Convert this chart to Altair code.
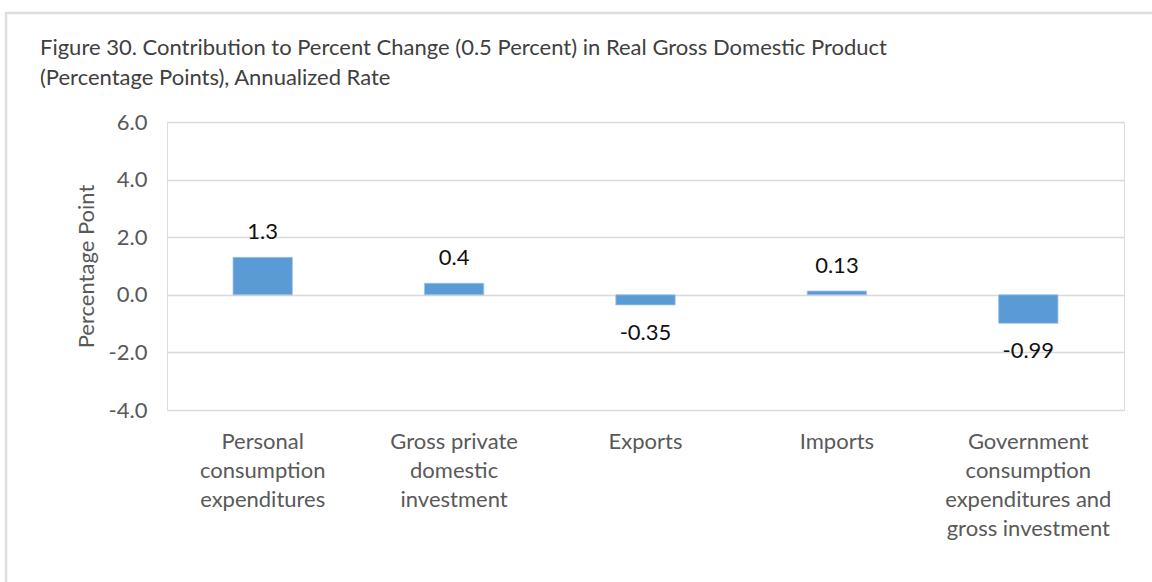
import altair as alt
import pandas as pd

title_lines = [
    "Figure 30. Contribution to Percent Change (0.5 Percent) in Real Gross Domestic Product",
    "(Percentage Points), Annualized Rate",
]
categories = [
    "Personal|consumption|expenditures",
    "Gross private|domestic|investment",
    "Exports",
    "Imports",
    "Government|consumption|expenditures and|gross investment",
]
values = [1.3, 0.4, -0.35, 0.13, -0.99]
value_labels = ["1.3", "0.4", "-0.35", "0.13", "-0.99"]
y_ticks = [-4, -2, 0, 2, 4, 6]

df = pd.DataFrame({"cat": categories, "val": values, "lab": value_labels})

FONT = "Lato"
FS = 22
BAR = "#5B9BD5"

x_enc = alt.X(
    "cat:N",
    sort=categories,
    scale=alt.Scale(paddingInner=0.69, paddingOuter=0.345),
    axis=alt.Axis(
        title=None,
        labelExpr="split(datum.label, '|')",
        labelAngle=0,
        labelFontSize=FS,
        labelColor="#595959",
        labelFont=FONT,
        labelLineHeight=29,
        labelPadding=21,
        labelLimit=300,
        ticks=False,
        domain=False,
        grid=False,
    ),
)

y_scale = alt.Scale(domain=[-4, 6], nice=False)

bars = alt.Chart(df).mark_bar(color=BAR, stroke="#9cc3e6", strokeWidth=0.8).encode(
    x=x_enc,
    y=alt.Y(
        "val:Q",
        scale=y_scale,
        axis=alt.Axis(
            title="Percentage Point",
            titleFontSize=FS,
            titleFont=FONT,
            titleFontWeight="normal",
            titleColor="#595959",
            titlePadding=10,
            values=y_ticks,
            labelExpr="replace(format(datum.value, '.1f'), '\u2212', '-')",
            labelFontSize=FS,
            labelFont=FONT,
            labelColor="#595959",
            labelPadding=20,
            ticks=False,
            domain=False,
            gridColor="#d9d9d9",
            gridWidth=1.5,
        ),
    ),
)

pos_text = alt.Chart(df).transform_filter("datum.val >= 0").mark_text(
    baseline="middle", dy=-25, fontSize=FS, font=FONT, color="#111111"
).encode(x=alt.X("cat:N", sort=categories), y=alt.Y("val:Q", scale=y_scale), text="lab:N")

neg_text = alt.Chart(df).transform_filter("datum.val < 0").mark_text(
    baseline="middle", dy=28, fontSize=FS, font=FONT, color="#111111"
).encode(x=alt.X("cat:N", sort=categories), y=alt.Y("val:Q", scale=y_scale), text="lab:N")

title1 = alt.Chart(pd.DataFrame({"t": [title_lines[0]]})).mark_text(
    align="left", baseline="middle", fontSize=FS, font=FONT, color="#404040"
).encode(x=alt.value(-127), y=alt.value(-74), text="t:N")

title2 = alt.Chart(pd.DataFrame({"t": [title_lines[1]]})).mark_text(
    align="left", baseline="middle", fontSize=FS, font=FONT, color="#404040"
).encode(x=alt.value(-127), y=alt.value(-44), text="t:N")

frame = alt.Chart(pd.DataFrame({"k": [0]})).mark_rect(
    fill=None, stroke="#dedede", strokeWidth=2.5
).encode(
    x=alt.value(-161), x2=alt.value(1100), y=alt.value(-109), y2=alt.value(520)
)

chart = alt.layer(frame, bars, pos_text, neg_text, title1, title2).properties(
    width=957,
    height=288,
    autosize=alt.AutoSizeParams(type="none"),
    padding={"left": 167, "top": 122, "right": 28, "bottom": 172},
).configure_view(stroke="#bfbfbf", strokeWidth=2).configure(background="white")

chart.save("out.html", embed_options={"renderer": "svg", "actions": False})
